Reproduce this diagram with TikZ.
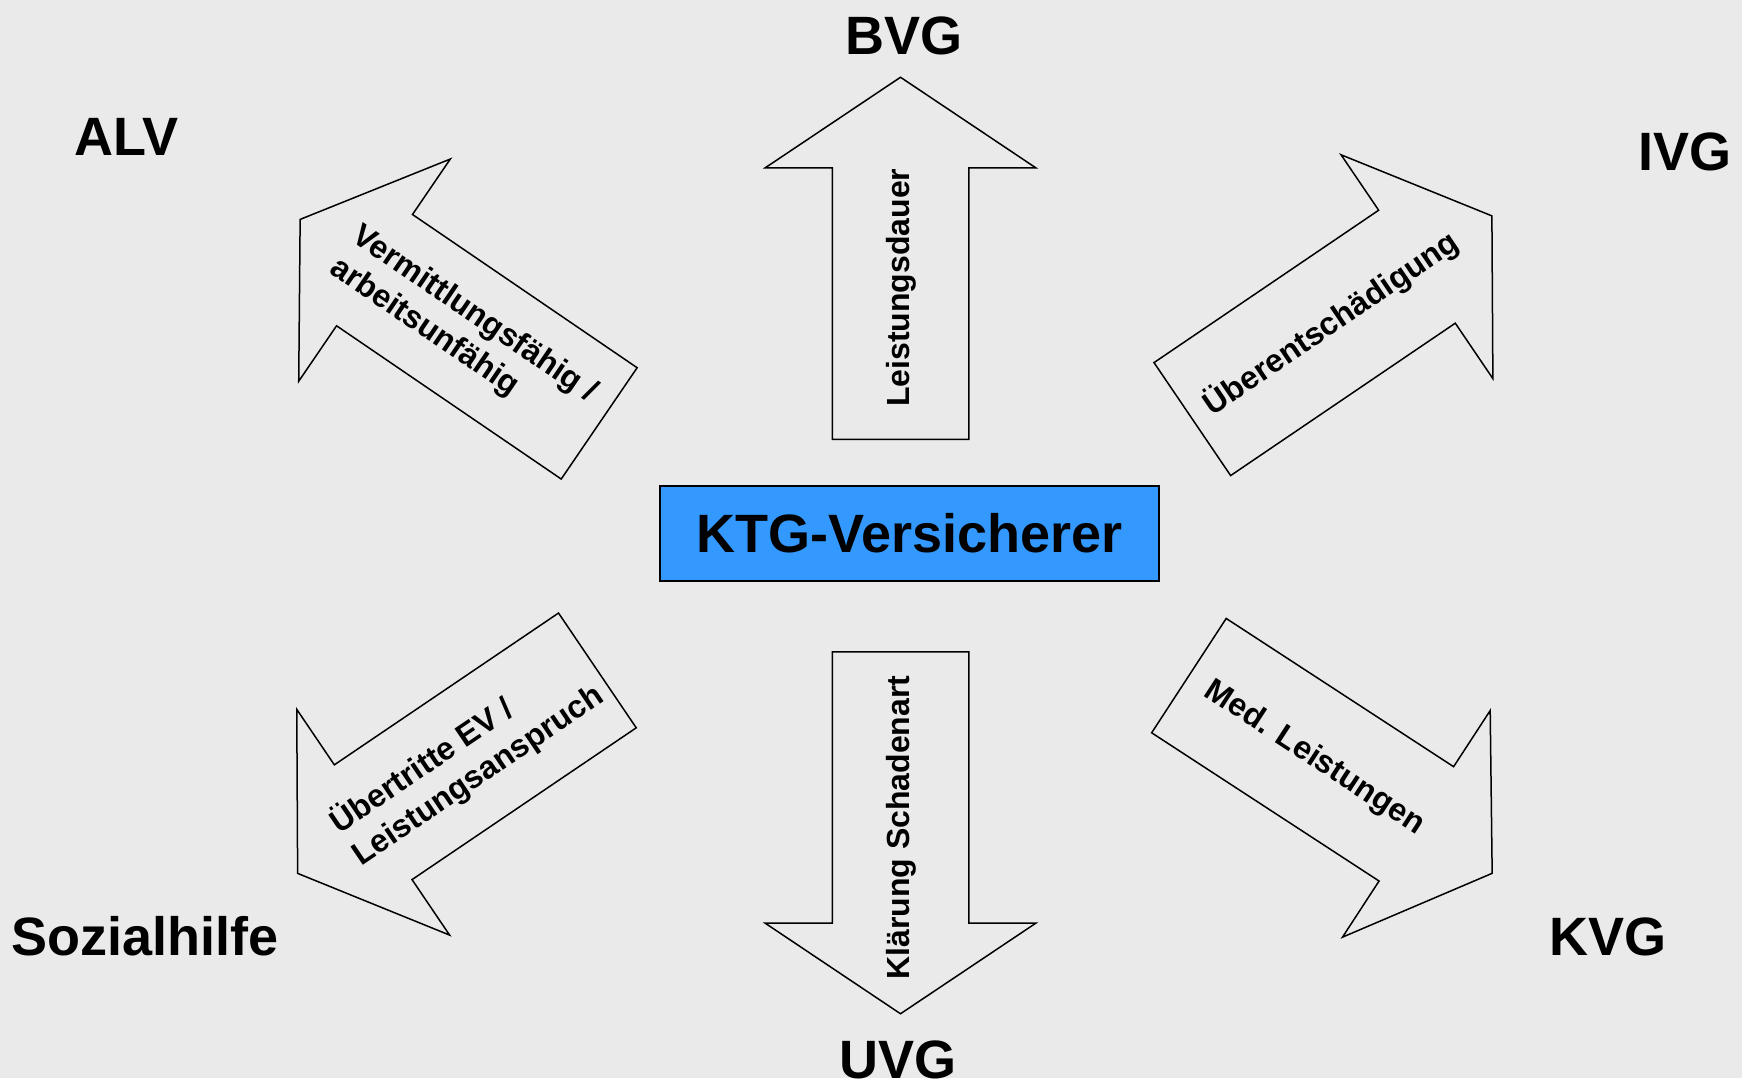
\documentclass[tikz,border=0pt]{standalone}
\usepackage{fontspec}
\setmainfont{Liberation Sans}
\usetikzlibrary{shapes.arrows}
\definecolor{bggray}{RGB}{234,234,234}
\definecolor{ktgblue}{RGB}{51,153,255}

\begin{document}
\begin{tikzpicture}[x=0.5pt, y=-0.5pt, semithick]
 % Define block styles
	\tikzstyle{versicherer} = [rectangle, draw, line width=1pt, fill=ktgblue, minimum width=249.7pt, minimum height=47.5pt, font=\fontsize{27}{32}\selectfont\bfseries]
	\tikzstyle{gesetz} = [anchor=base, inner sep=0pt, font=\fontsize{27}{32}\selectfont\bfseries]
	\tikzstyle{blockarrow} = [single arrow, draw, line width=0.75pt, fill=bggray, anchor=tail, minimum height=181pt, minimum width=134.5pt, single arrow head extend=33.5pt, single arrow tip angle=112.4, inner sep=0pt, align=left, font=\fontsize{16}{19.5}\selectfont\bfseries]
	\tikzstyle{einzeilig} = [text height=38.25pt, text depth=29.25pt]
	\tikzstyle{zweizeilig} = [inner ysep=16pt]
	\tikzstyle{zurueck} = [shape border rotate=180]
	\path [use as bounding box, fill=bggray] (0,0) rectangle (1742,1078);
%%====Knoten und Position===============================================================
	\node	[versicherer]	(ktg)	at (909.3,533.5)	{KTG-Versicherer};
	\node	[gesetz]	(bvg)	at (904,54)	{BVG};
	\node	[gesetz]	(uvg)	at (898,1078)	{UVG};
	\node	[gesetz]	(alv)	at (126.5,155)	{ALV};
	\node	[gesetz]	(ivg)	at (1685,170)	{IVG};
	\node	[gesetz]	(sozial)	at (145,955)	{Sozialhilfe};
	\node	[gesetz]	(kvg)	at (1608,955)	{KVG};
%%====Pfeile===============================================================
	\node	[blockarrow, einzeilig, rotate=90]	(dauer)	at (900.5,440)	{Leistungsdauer\hspace*{6.6pt}};
	\node	[blockarrow, einzeilig, zurueck, rotate=90]	(schaden)	at (900.5,651)	{\hspace*{-17.8pt}Klärung Schadenart};
	\node	[blockarrow, zweizeilig, zurueck, rotate=-34.3]	(vermittlung)	at (599.8,423.8)	{Vermittlungsfähig /\hspace*{6pt}\\arbeitsunfähig};
	\node	[blockarrow, einzeilig, rotate=34.15]	(ueber)	at (1191.7,419.5)	{Überentschädigung\hspace*{-10pt}};
	\node	[blockarrow, zweizeilig, zurueck, rotate=34.1]	(uebertritt)	at (598,670)	{Übertritte EV /\\Leistungsanspruch};
	\node	[blockarrow, einzeilig, rotate=-33.1]	(med)	at (1188.3,675.2)	{Med. Leistungen\hspace*{8pt}};
\end{tikzpicture}
\end{document}
